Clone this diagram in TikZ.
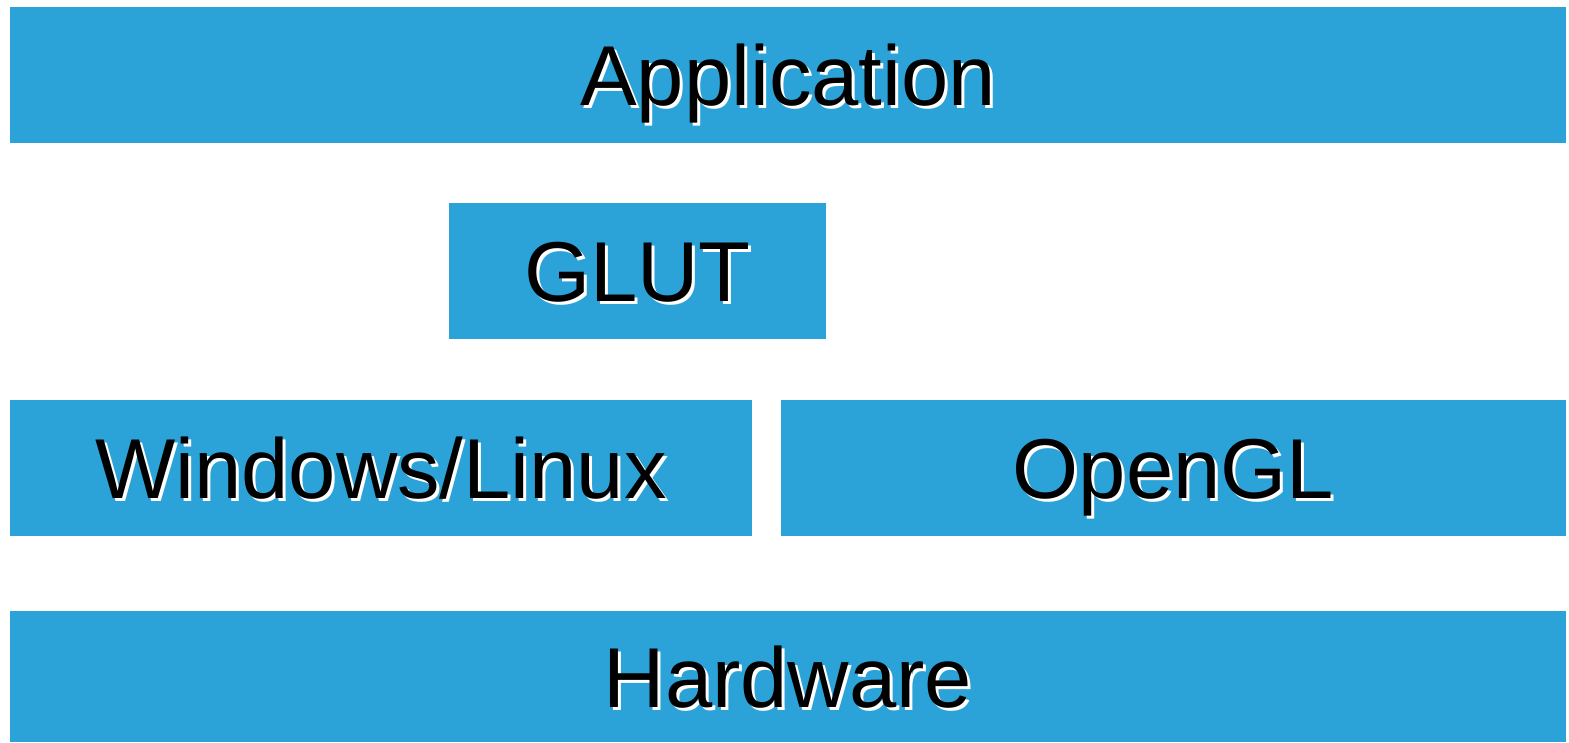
\documentclass[tikz,border=0pt]{standalone}
\usepackage{fontspec}
\setmainfont{Liberation Sans}
\usepackage{tikz}
\usepackage{xcolor}
\definecolor{layerblue}{RGB}{44,163,216}
\newcommand{\glowtext}[1]{\makebox[0pt][l]{\kern3pt\raisebox{-3pt}{\color{white}#1}}#1}

\begin{document}
\begin{tikzpicture}[x=1pt,y=-1pt]
\useasboundingbox (0,0) rectangle (1569,742);
\begin{scope}[every node/.style={fill=layerblue,inner sep=0pt,minimum height=136pt,text height=61pt,text depth=0pt,font=\fontsize{85}{100}\selectfont}]
\node (app) [minimum width=1556pt] at (788,75) {\glowtext{Application}};

\node (glut) [minimum width=377pt] at (637.5,271) {\glowtext{GLUT}};

\node (os) [minimum width=742pt] at (381,468) {\glowtext{Windows/Linux}};
\node (gl) [minimum width=785pt] at (1173.5,468) {\glowtext{OpenGL}};

\node (hw) [minimum width=1556pt,minimum height=131pt] at (788,676.5) {\glowtext{Hardware}};
\end{scope}
\end{tikzpicture}
\end{document}
